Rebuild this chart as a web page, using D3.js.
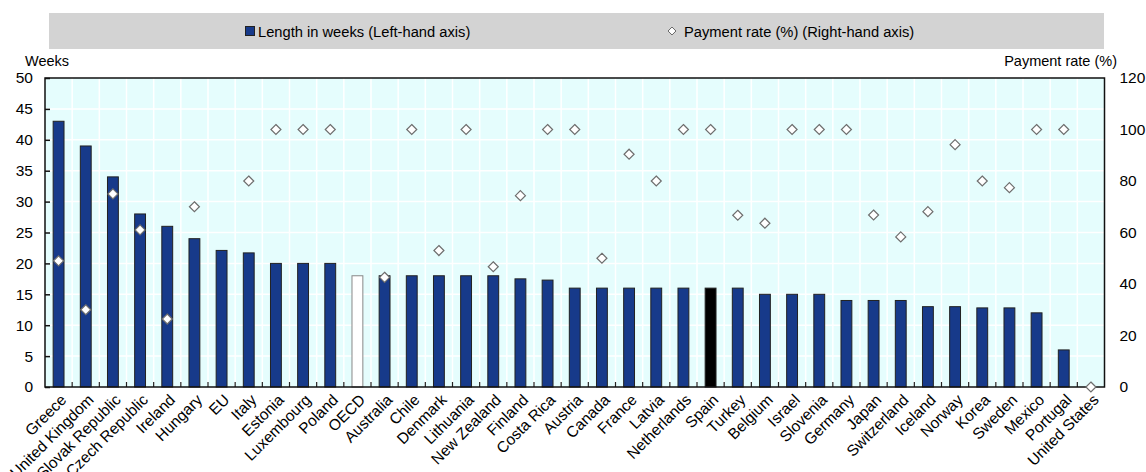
<!DOCTYPE html>
<meta charset="utf-8">
<style>
  body { margin: 0; background: #fff; }
  text { font-family: "Liberation Sans", Arial, sans-serif; fill: #000; }
</style>
<body>
<svg width="1146" height="472"></svg>
<script src="https://d3js.org/d3.v7.min.js"></script>
<script>

var countries = ["Greece", "United Kingdom", "Slovak Republic", "Czech Republic", "Ireland", "Hungary", "EU", "Italy",
  "Estonia", "Luxembourg", "Poland", "OECD", "Australia", "Chile", "Denmark", "Lithuania", "New Zealand", "Finland",
  "Costa Rica", "Austria", "Canada", "France", "Latvia", "Netherlands", "Spain", "Turkey", "Belgium", "Israel",
  "Slovenia", "Germany", "Japan", "Switzerland", "Iceland", "Norway", "Korea", "Sweden", "Mexico", "Portugal",
  "United States"];

var weeks = [43, 39, 34, 28, 26, 24, 22.1, 21.7, 20, 20, 20, 18, 18, 18, 18, 18, 18, 17.5,
  17.3, 16, 16, 16, 16, 16, 16, 16, 15, 15, 15, 14, 14, 14, 13, 13, 12.8, 12.8, 12, 6, 0];

// null = no payment rate shown
var payment = [49, 30, 75, 61, 26.4, 70, null, 80, 100, 100, 100, null, 42.6, 100, 53, 100, 46.7, 74.3,
  100, 100, 50, 90.4, 80, 100, 100, 66.7, 63.6, 100, 100, 100, 66.8, 58.3, 68.1, 94.1, 80, 77.4, 100, 100, 0];

var leftTicks = [0, 5, 10, 15, 20, 25, 30, 35, 40, 45, 50];
var rightTicks = [0, 20, 40, 60, 80, 100, 120];

var svg = d3.select("svg");
var pL = 45, pR = 1104.5, pT = 78, pB = 387;

var x = d3.scaleBand().domain(countries).range([pL, pR]).paddingInner(0.6).paddingOuter(0.3);
var yL = d3.scaleLinear().domain([0, 50]).range([pB, pT]);
var yR = d3.scaleLinear().domain([0, 120]).range([pB, pT]);

// legend
var leg = svg.append("g");
leg.append("rect").attr("x", 49).attr("y", 13).attr("width", 1055).attr("height", 36).attr("fill", "#d3d3d3");
leg.append("rect").attr("x", 245.5).attr("y", 26.5).attr("width", 9).attr("height", 9)
  .attr("fill", "#173a8a").attr("stroke", "#222");
leg.append("text").attr("x", 258).attr("y", 36.5).style("font-size", "14.7px").text("Length in weeks (Left-hand axis)");
leg.append("path").attr("d", d3.symbol(d3.symbolDiamond2, 40)()).attr("transform", "translate(672,31)")
  .attr("fill", "#fff").attr("stroke", "#666");
leg.append("text").attr("x", 684).attr("y", 36.5).style("font-size", "14.7px").text("Payment rate (%) (Right-hand axis)");

// plot background
svg.append("rect").attr("x", pL).attr("y", pT).attr("width", pR - pL).attr("height", pB - pT)
  .attr("fill", "#e5fdfd");

var step = x.step();
var bounds = d3.range(1, countries.length).map(i => x(countries[i]) - (step - x.bandwidth()) / 2);

// gridlines
svg.append("g").selectAll("line").data(bounds).join("line")
  .attr("x1", d => d).attr("x2", d => d).attr("y1", pT).attr("y2", pB)
  .attr("stroke", "#fff").attr("stroke-width", 1.5);
svg.append("g").selectAll("line").data(leftTicks.slice(1, -1)).join("line")
  .attr("x1", pL).attr("x2", pR).attr("y1", d => yL(d)).attr("y2", d => yL(d))
  .attr("stroke", "#fff").attr("stroke-width", 1.5);

// bars
svg.append("g").selectAll("rect").data(countries).join("rect")
  .attr("x", d => x(d)).attr("width", x.bandwidth())
  .attr("y", (d, i) => yL(weeks[i])).attr("height", (d, i) => yL(0) - yL(weeks[i]))
  .attr("fill", d => d === "OECD" ? "#fff" : d === "Spain" ? "#000" : "#173a8a")
  .attr("stroke", d => d === "OECD" ? "#888" : "#222").attr("stroke-width", 1);

// bottom ticks between bands
svg.append("g").selectAll("line").data(bounds).join("line")
  .attr("x1", d => d).attr("x2", d => d).attr("y1", pB - 5).attr("y2", pB)
  .attr("stroke", "#222").attr("stroke-width", 1.2);

// frame
svg.append("rect").attr("x", pL).attr("y", pT).attr("width", pR - pL).attr("height", pB - pT)
  .attr("fill", "none").attr("stroke", "#111").attr("stroke-width", 1.5);

// diamonds
var pts = countries.map((c, i) => ({ c: c, v: payment[i] })).filter(d => d.v !== null);
svg.append("g").selectAll("path").data(pts).join("path")
  .attr("d", d3.symbol(d3.symbolDiamond2, 64)())
  .attr("transform", d => "translate(" + (x(d.c) + x.bandwidth() / 2) + "," + yR(d.v) + ")")
  .attr("fill", "#fff").attr("stroke", "#6e6e6e").attr("stroke-width", 1.2);

// left axis
var axL = svg.append("g").attr("transform", "translate(" + pL + ",0)")
  .call(d3.axisLeft(yL).tickValues(leftTicks).tickSize(-5).tickPadding(12));
axL.select(".domain").remove();
axL.selectAll("line").attr("stroke", "#111").attr("stroke-width", 1.5);
axL.selectAll("text").style("font-size", "15.5px").style("font-family", "Liberation Sans, Arial, sans-serif");

// right axis
var axR = svg.append("g").attr("transform", "translate(" + pR + ",0)")
  .call(d3.axisRight(yR).tickValues(rightTicks).tickSize(0).tickPadding(15));
axR.select(".domain").remove();
axR.selectAll("text").style("font-size", "15.5px").style("font-family", "Liberation Sans, Arial, sans-serif");

svg.append("text").attr("x", 25).attr("y", 66).style("font-size", "14.5px").text("Weeks");
svg.append("text").attr("x", 1117).attr("y", 66).attr("text-anchor", "end").style("font-size", "14.5px")
  .text("Payment rate (%)");

// category labels
svg.append("g").selectAll("text").data(countries).join("text")
  .attr("text-anchor", "end")
  .attr("transform", d => "translate(" + (x(d) + x.bandwidth() / 2 + 5) + "," + (pB + 10) + ") rotate(-45)")
  .attr("dy", "0.35em")
  .style("font-size", "15.5px")
  .text(d => d);

</script>
</body>
